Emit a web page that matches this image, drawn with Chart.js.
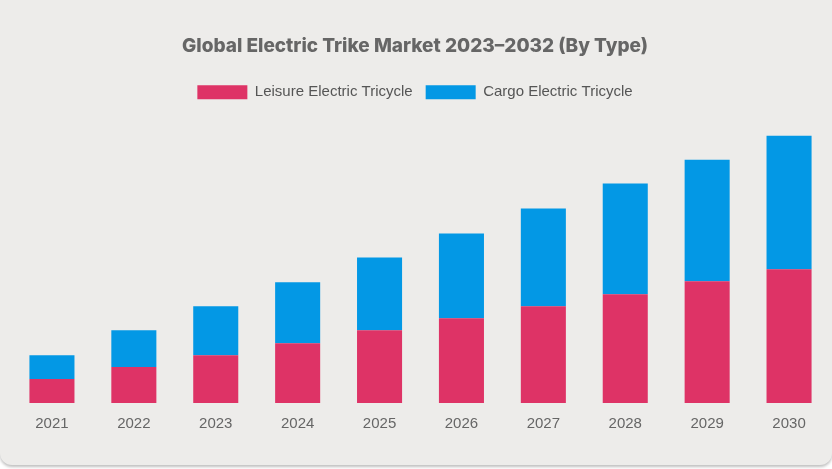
<!DOCTYPE html>
<html>
<head>
<meta charset="utf-8">
<script src="https://cdn.jsdelivr.net/npm/chart.js@4"></script>
<style>
  html, body { margin: 0; padding: 0; background: #ffffff; }
  #card {
    position: absolute; left: 0; top: 0; width: 832px; height: 465px;
    background: #edecea; border-radius: 0 0 12px 12px;
    box-shadow: 0 2px 3px rgba(0,0,0,0.25);
    overflow: hidden;
  }
  #wrap { position: absolute; left: 0; top: 0; width: 832px; height: 465px; }
</style>
</head>
<body>
<div id="card"><div id="wrap"><canvas id="c"></canvas></div></div>
<script>
const categories = ["2021","2022","2023","2024","2025","2026","2027","2028","2029","2030"];
const leisureValues = [24, 36, 48, 60, 73, 85, 97, 109, 122, 134];
const cargoValues = [24, 37, 49, 61, 73, 85, 98, 111, 122, 134];
const seriesNames = ["Leisure Electric Tricycle", "Cargo Electric Tricycle"];
const titleText = "Global Electric Trike Market 2023\u20132032 (By Type)";

new Chart(document.getElementById('c'), {
  type: 'bar',
  data: {
    labels: categories,
    datasets: [
      { label: seriesNames[0], data: leisureValues, backgroundColor: '#de3366', borderWidth: 0 },
      { label: seriesNames[1], data: cargoValues, backgroundColor: '#0398e5', borderWidth: 0 }
    ]
  },
  options: {
    responsive: true,
    maintainAspectRatio: false,
    animation: false,
    layout: { padding: { left: 0, right: 2, top: 26, bottom: 28 } },
    datasets: { bar: { categoryPercentage: 0.55, barPercentage: 1.0 } },
    plugins: {
      title: {
        display: true, text: titleText, color: '#666666',
        font: { family: 'Inter', size: 19, weight: '800' },
        padding: { top: 9, bottom: 14 }
      },
      legend: {
        display: true,
        labels: {
          color: '#555555', boxWidth: 50, boxHeight: 14,
          font: { family: 'Liberation Sans', size: 15 }, padding: 13
        }
      },
      tooltip: { enabled: false }
    },
    scales: {
      x: {
        stacked: true,
        grid: { display: false },
        border: { display: false },
        ticks: { color: '#666666', font: { family: 'Liberation Sans', size: 15 }, padding: 4 }
      },
      y: {
        stacked: true, display: true, min: 0, max: 294,
        grid: { display: false },
        border: { display: false },
        ticks: { display: false },
        afterFit: function (scale) { scale.width = 11; }
      }
    }
  }
});
</script>
</body>
</html>
